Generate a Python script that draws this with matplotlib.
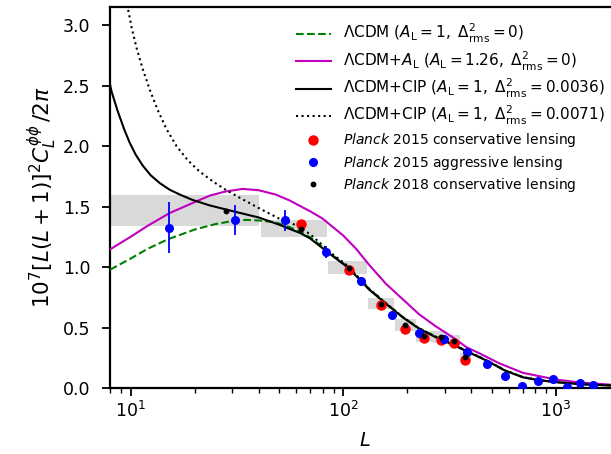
import numpy as np
import matplotlib
matplotlib.use("Agg")
import matplotlib.pyplot as plt

# theory curves
L_lcdm = [8, 10, 12, 15, 20, 25, 30, 35, 40, 48, 56, 63, 70, 80, 90, 100, 106, 115,
          122, 132, 159, 190, 227, 272, 332, 380, 433, 473, 577, 700, 826, 1000, 1300, 2000]
lcdm = [0.978, 1.07, 1.15, 1.23, 1.31, 1.355, 1.38, 1.39, 1.385, 1.37, 1.33, 1.29, 1.245,
        1.165, 1.09, 1.03, 0.995, 0.93, 0.885, 0.82, 0.70, 0.588, 0.494, 0.425, 0.357,
        0.307, 0.26, 0.228, 0.145, 0.09, 0.066, 0.049, 0.033, 0.018]

L_al = [8, 10, 12, 15.2, 19.6, 23.5, 28, 33.6, 40, 48, 56, 70, 80, 100, 115, 132, 159,
        190, 227, 272, 330, 381, 433, 540, 700, 1000, 1300, 2000]
al = [1.146, 1.25, 1.34, 1.445, 1.53, 1.59, 1.625, 1.646, 1.635, 1.60, 1.55, 1.46, 1.40,
      1.26, 1.15, 1.02, 0.86, 0.735, 0.61, 0.51, 0.415, 0.335, 0.29, 0.205, 0.125, 0.07,
      0.045, 0.022]

L_cip1 = [8, 8.14, 8.41, 8.69, 8.98, 9.37, 9.89, 10.56, 11.39, 12.41, 13.69, 15.24, 17.0,
          19.55, 23.5, 28.2, 34, 40, 50, 56, 63, 70, 80, 90, 100, 106, 115, 122, 132, 159,
          190, 227, 272, 332, 380, 433, 473, 577, 700, 826, 1000, 1300, 2000]
cip1 = [2.51, 2.45, 2.37, 2.29, 2.22, 2.13, 2.03, 1.93, 1.84, 1.76, 1.695, 1.64, 1.60,
        1.555, 1.51, 1.475, 1.44, 1.41, 1.35, 1.315, 1.28, 1.235, 1.155, 1.085, 1.025,
        0.99, 0.925, 0.88, 0.815, 0.695, 0.585, 0.49, 0.42, 0.353, 0.303, 0.257, 0.225,
        0.143, 0.088, 0.065, 0.048, 0.032, 0.017]

L_cip2 = [9.27, 9.68, 10.11, 10.67, 11.39, 12.28, 13.39, 14.76, 16.44, 18.52, 21.09,
          24.27, 28.2, 33.6, 40.3, 50, 56, 63, 70, 80, 90, 105, 115, 122, 132, 159, 190,
          227, 272, 332, 380, 433, 473, 577, 700, 826, 1000, 1300, 2000]
cip2 = [3.33, 3.15, 2.98, 2.81, 2.64, 2.47, 2.30, 2.14, 2.00, 1.885, 1.79, 1.71, 1.635,
        1.56, 1.485, 1.40, 1.37, 1.325, 1.27, 1.18, 1.10, 1.01, 0.935, 0.89, 0.822, 0.70,
        0.588, 0.494, 0.425, 0.357, 0.307, 0.26, 0.228, 0.145, 0.09, 0.066, 0.049, 0.033,
        0.018]

# Planck 2015 conservative
L_p15c = [63, 106, 150, 195.5, 240, 288, 330, 372]
p15c = [1.352, 0.978, 0.690, 0.489, 0.41, 0.396, 0.368, 0.231]

# Planck 2015 aggressive
L_p15a = [15.2, 30.9, 53, 83, 121.6, 168.6, 227.5, 298, 381, 473, 577, 695, 826, 971,
          1130, 1300, 1486]
p15a = [1.325, 1.39, 1.387, 1.124, 0.882, 0.602, 0.451, 0.401, 0.294, 0.198, 0.101,
        0.016, 0.06, 0.072, 0.011, 0.044, 0.025]
p15a_err = [0.21, 0.127, 0.088, 0.048, 0.035, 0.025, 0.02, 0.02, 0.018, 0.015, 0.015,
            0.015, 0.015, 0.015, 0.015, 0.015, 0.015]

# Planck 2018 conservative, with bin edges
L_p18 = [28, 63, 106, 150, 195.5, 240, 288, 330, 372]
p18 = [1.467, 1.316, 0.995, 0.698, 0.522, 0.426, 0.423, 0.39, 0.253]
p18_err = [0.13, 0.069, 0.051, 0.047, 0.047, 0.048, 0.047, 0.045, 0.035]
bin_lo = [8, 41, 85, 130, 175, 220, 265, 310, 355]
bin_hi = [40, 84, 129, 174, 219, 264, 309, 354, 399]


def main():
    plt.rcParams['mathtext.fontset'] = 'dejavusans'
    fig = plt.figure(figsize=(6.11, 4.54), dpi=100)
    ax = fig.add_axes([110 / 611, 66 / 454, 510 / 611, 381 / 454])

    lo = np.array(bin_lo)
    hi = np.array(bin_hi)
    err = np.array(p18_err)
    ax.bar(lo, 2 * err, width=hi - lo, bottom=np.array(p18) - err,
           align='edge', color='0.85', lw=0, zorder=1)

    h1, = ax.plot(L_lcdm, lcdm, '--', color='green', lw=1.5, zorder=3)
    h2, = ax.plot(L_al, al, '-', color='m', lw=1.5, zorder=3)
    h3, = ax.plot(L_cip1, cip1, '-', color='k', lw=1.5, zorder=3)
    h4, = ax.plot(L_cip2, cip2, ':', color='k', lw=1.5, zorder=3)

    h5, = ax.plot(L_p15c, p15c, 'o', color='r', ms=6.5, zorder=4)
    eb = ax.errorbar(L_p15a, p15a, yerr=p15a_err, fmt='o', color='b', ms=5.5, lw=1.3,
                     zorder=5)
    h6 = eb[0]
    h7, = ax.plot(L_p18, p18, 'o', color='k', ms=3.2, zorder=6)

    labels = [
        r'$\Lambda$CDM ($A_{\rm L}=1,\ \Delta^2_{\rm rms}=0$)',
        r'$\Lambda$CDM$+A_{\rm L}$ ($A_{\rm L}=1.26,\ \Delta^2_{\rm rms}=0$)',
        r'$\Lambda$CDM+CIP ($A_{\rm L}=1,\ \Delta^2_{\rm rms}=0.0036$)',
        r'$\Lambda$CDM+CIP ($A_{\rm L}=1,\ \Delta^2_{\rm rms}=0.0071$)',
        r'$\it{Planck}$ 2015 conservative lensing',
        r'$\it{Planck}$ 2015 aggressive lensing',
        r'$\it{Planck}$ 2018 conservative lensing',
    ]

    ax.set_xscale('log')
    ax.set_xlim(8, 2000)
    ax.set_ylim(0, 3.15)
    ax.set_yticks([0, 0.5, 1.0, 1.5, 2.0, 2.5, 3.0])
    ax.set_xlabel(r'$L$', fontsize=14, labelpad=7)
    ax.set_ylabel(r'$10^7[L(L+1)]^2C_L^{\phi\phi}\,/2\pi$', fontsize=15.5, labelpad=3)
    ax.tick_params(which='major', labelsize=12.5, length=6, width=1.3)
    ax.tick_params(which='minor', length=3.5, width=1.0)
    ax.tick_params(axis='y', pad=8)
    for s in ax.spines.values():
        s.set_linewidth(1.6)

    leg = ax.legend([h1, h2, h3, h4, h5, h6, h7], labels, loc='upper left',
                    bbox_to_anchor=(296 / 611, 1 - 22 / 454),
                    bbox_transform=fig.transFigure, frameon=False, fontsize=10,
                    handlelength=2.5, handletextpad=0.85, labelspacing=0.3,
                    borderpad=0, borderaxespad=0)
    for t in leg.get_texts()[:4]:
        t.set_fontsize(11)

    fig.savefig('out.png', dpi=100)


if __name__ == '__main__':
    main()
